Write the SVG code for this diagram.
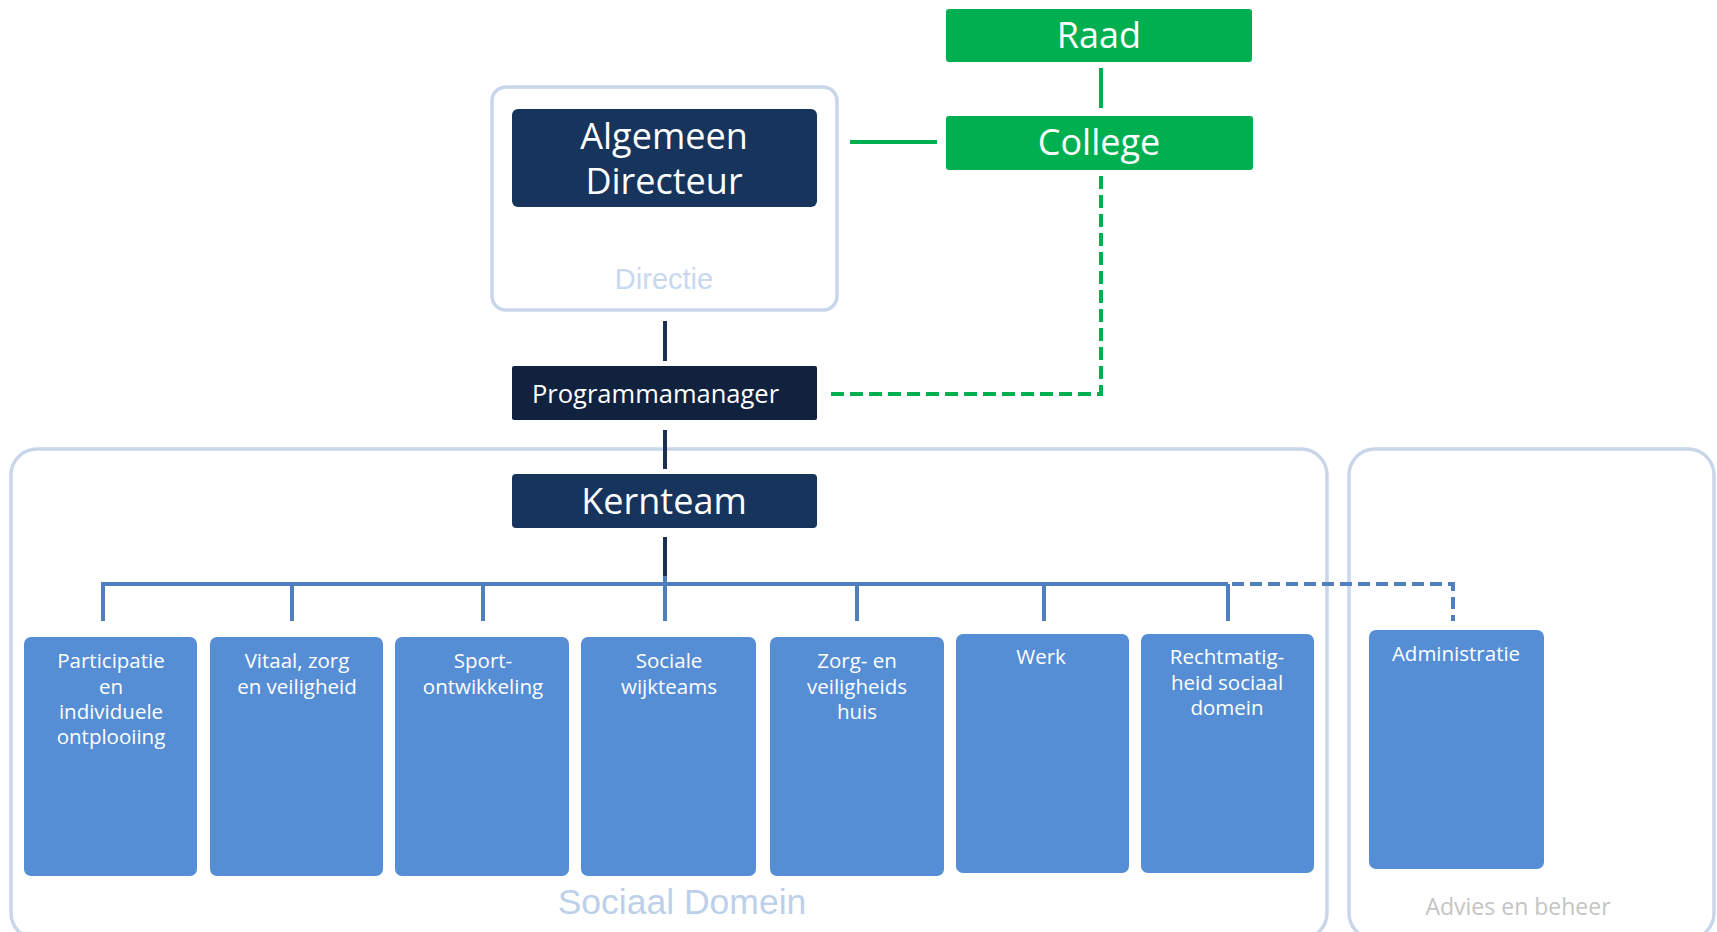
<svg xmlns="http://www.w3.org/2000/svg" width="1717" height="932" viewBox="0 0 1717 932">
<style>
.cont{fill:#ffffff;stroke:#c9d6ea;stroke-width:3.5}
.navy{fill:#17345c}
.pm{fill:#11223f}
.green{fill:#00b050}
.blue{fill:#558ed5}
.wt{fill:#ffffff;font-family:"Open Sans","Noto Sans",sans-serif;text-anchor:middle}
.bt{fill:#ffffff;font-family:"Open Sans","Noto Sans",sans-serif;font-size:20.5px;text-anchor:middle}
.navyline{stroke:#1b2f4f;stroke-width:4;fill:none}
.greenline{stroke:#00b050;stroke-width:4;fill:none}
.greendash{stroke:#00b050;stroke-width:4;fill:none;stroke-dasharray:13 6}
.busline{stroke:#4f7fbd;stroke-width:4;fill:none}
.busdash{stroke:#4f7fbd;stroke-width:4;fill:none;stroke-dasharray:12 6}
</style>
<rect width="1717" height="932" fill="#ffffff"/>

<g id="container-directie">
<rect class="cont" x="492" y="87" width="345" height="223" rx="14"/>
<text x="664" y="289" font-family="Liberation Sans,Arial,sans-serif" font-size="29" fill="#c8d8ee" text-anchor="middle">Directie</text>
</g>

<g id="container-sociaal-domein">
<rect class="cont" x="11" y="449" width="1316" height="490" rx="26"/>
<text x="682" y="914" font-family="Liberation Sans,Arial,sans-serif" font-size="35.5" fill="#bcd0ea" text-anchor="middle">Sociaal Domein</text>
</g>

<g id="container-advies">
<rect class="cont" x="1349" y="449" width="365" height="490" rx="26"/>
<rect x="1404" y="890" width="300" height="42" fill="#ffffff"/>
<text x="1518" y="915" font-family="Open Sans,Noto Sans,sans-serif" font-size="23" fill="#c4c4c4" text-anchor="middle">Advies en beheer</text>
</g>

<g id="connectors">
<line class="greenline" x1="1101" y1="68" x2="1101" y2="108"/>
<line class="greenline" x1="850" y1="142" x2="937" y2="142"/>
<path class="greendash" d="M1101 176 V394 H829"/>
<line class="navyline" x1="665" y1="321" x2="665" y2="361"/>
<line class="navyline" x1="665" y1="430" x2="665" y2="469"/>
<line class="navyline" x1="665" y1="537" x2="665" y2="576"/>
<path class="busline" d="M103 621 V584 H1228"/>
<line class="busline" x1="292" y1="584" x2="292" y2="621"/>
<line class="busline" x1="483" y1="584" x2="483" y2="621"/>
<line class="busline" x1="665" y1="576" x2="665" y2="621"/>
<line class="busline" x1="857" y1="584" x2="857" y2="621"/>
<line class="busline" x1="1044" y1="584" x2="1044" y2="621"/>
<line class="busline" x1="1228" y1="584" x2="1228" y2="621"/>
<path class="busdash" d="M1232 584 H1453 V621"/>
</g>

<g id="node-raad">
<rect class="green" x="946" y="9" width="306" height="53" rx="3"/>
<text class="wt" x="1099" y="48" font-size="36">Raad</text>
</g>
<g id="node-college">
<rect class="green" x="946" y="116" width="307" height="54" rx="3"/>
<text class="wt" x="1099" y="155" font-size="36">College</text>
</g>
<g id="node-algemeen-directeur">
<rect class="navy" x="512" y="109" width="305" height="98" rx="6"/>
<text class="wt" x="664" y="149" font-size="36">Algemeen</text>
<text class="wt" x="664" y="194" font-size="36">Directeur</text>
</g>
<g id="node-programmamanager">
<rect class="pm" x="512" y="366" width="305" height="54" rx="2"/>
<text x="532" y="403" font-family="Open Sans,Noto Sans,sans-serif" font-size="25.5" fill="#ffffff">Programmamanager</text>
</g>
<g id="node-kernteam">
<rect class="navy" x="512" y="474" width="305" height="54" rx="4"/>
<text class="wt" x="664" y="514" font-size="36">Kernteam</text>
</g>

<g id="node-participatie">
<rect class="blue" x="24" y="637" width="173" height="239" rx="7"/>
<text class="bt" x="111" y="668">Participatie</text>
<text class="bt" x="111" y="694">en</text>
<text class="bt" x="111" y="719">individuele</text>
<text class="bt" x="111" y="744">ontplooiing</text>
</g>
<g id="node-vitaal">
<rect class="blue" x="210" y="637" width="173" height="239" rx="7"/>
<text class="bt" x="297" y="668">Vitaal, zorg</text>
<text class="bt" x="297" y="694">en veiligheid</text>
</g>
<g id="node-sport">
<rect class="blue" x="395" y="637" width="174" height="239" rx="7"/>
<text class="bt" x="483" y="668">Sport-</text>
<text class="bt" x="483" y="694">ontwikkeling</text>
</g>
<g id="node-sociale-wijkteams">
<rect class="blue" x="581" y="637" width="175" height="239" rx="7"/>
<text class="bt" x="669" y="668">Sociale</text>
<text class="bt" x="669" y="694">wijkteams</text>
</g>
<g id="node-zorg-veiligheidshuis">
<rect class="blue" x="770" y="637" width="174" height="239" rx="7"/>
<text class="bt" x="857" y="668">Zorg- en</text>
<text class="bt" x="857" y="694">veiligheids</text>
<text class="bt" x="857" y="719">huis</text>
</g>
<g id="node-werk">
<rect class="blue" x="956" y="634" width="173" height="239" rx="7"/>
<text class="bt" x="1041" y="664">Werk</text>
</g>
<g id="node-rechtmatigheid">
<rect class="blue" x="1141" y="634" width="173" height="239" rx="7"/>
<text class="bt" x="1227" y="664">Rechtmatig-</text>
<text class="bt" x="1227" y="690">heid sociaal</text>
<text class="bt" x="1227" y="715">domein</text>
</g>
<g id="node-administratie">
<rect class="blue" x="1369" y="630" width="175" height="239" rx="7"/>
<text class="bt" x="1456" y="661">Administratie</text>
</g>
</svg>
